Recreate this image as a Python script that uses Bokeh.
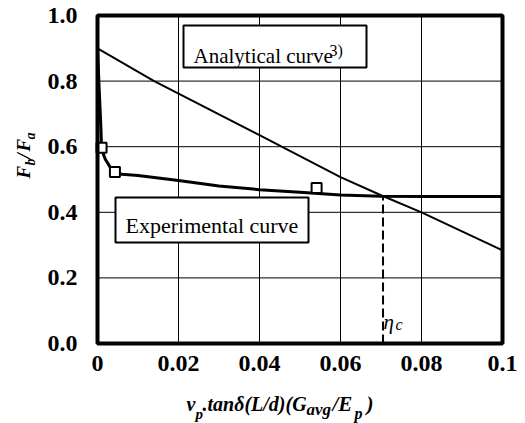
from bokeh.plotting import figure
from bokeh.models import Label, BoxAnnotation, FixedTicker
from bokeh.embed import file_html
from bokeh.resources import INLINE
import math

# ---- data ----
analytical_x = [0.0, 0.014, 0.04, 0.06, 0.07, 0.08, 0.1]
analytical_y = [0.90, 0.80, 0.635, 0.507, 0.452, 0.400, 0.284]

experimental_x = [0.0, 0.0004, 0.0008, 0.001, 0.0015, 0.002, 0.003, 0.0043, 0.006,
                  0.01, 0.02, 0.03, 0.04, 0.05, 0.06, 0.07, 0.08, 0.1]
experimental_y = [0.90, 0.78, 0.67, 0.60, 0.575, 0.56, 0.54, 0.523, 0.516,
                  0.512, 0.497, 0.480, 0.469, 0.461, 0.453, 0.449, 0.448, 0.448]

marker_x = [0.001, 0.0043, 0.0541]
marker_y = [0.597, 0.523, 0.474]

eta_c = 0.0705
f_c = 0.449

x_ticks = [0, 0.02, 0.04, 0.06, 0.08, 0.1]
x_tick_labels = ["0", "0.02", "0.04", "0.06", "0.08", "0.1"]
y_ticks = [0, 0.2, 0.4, 0.6, 0.8, 1.0]
y_tick_labels = ["0.0", "0.2", "0.4", "0.6", "0.8", "1.0"]

# ---- layout (pixels) ----
W, H = 525, 423
FL, FT, FW, FH = 97, 15, 405, 328      # plot area inside the canvas
X0, X1, Y0, Y1 = 0.0, 0.1, 0.0, 1.0


def dx(px):
    return X0 + (px - FL) / FW * (X1 - X0)


def dy(py):
    return Y1 - (py - FT) / FH * (Y1 - Y0)


SERIF = "Liberation Serif"

p = figure(width=W, height=H, min_border=0,
           x_range=(dx(0), dx(W)), y_range=(dy(H), dy(0)),
           output_backend="svg", toolbar_location=None)
p.background_fill_color = "white"
p.border_fill_color = "white"
p.outline_line_color = None
p.xgrid.visible = False
p.ygrid.visible = False

for ax in (p.xaxis, p.yaxis):
    ax.fixed_location = 0
    ax.axis_line_color = None
    ax.major_tick_line_color = None
    ax.minor_tick_line_color = None
    ax.major_label_text_font = SERIF
    ax.major_label_text_font_size = "24px"
    ax.major_label_text_font_style = "bold"
    ax.major_label_text_color = "black"

p.xaxis.ticker = FixedTicker(ticks=x_ticks)
p.xaxis.major_label_overrides = {t: l for t, l in zip(x_ticks, x_tick_labels)}
p.xaxis.major_label_standoff = 6
p.yaxis.ticker = FixedTicker(ticks=y_ticks)
p.yaxis.major_label_overrides = {t: l for t, l in zip(y_ticks, y_tick_labels)}
p.yaxis.major_label_standoff = 14

# grid lines at the inner ticks
gx = x_ticks[1:-1]
gy = y_ticks[1:-1]
p.segment(x0=gx, y0=[Y0] * len(gx), x1=gx, y1=[Y1] * len(gx),
          line_color="black", line_width=1)
p.segment(x0=[X0] * len(gy), y0=gy, x1=[X1] * len(gy), y1=gy,
          line_color="black", line_width=1)

# curves
p.line(analytical_x, analytical_y, line_color="black", line_width=2)
p.line(experimental_x, experimental_y, line_color="black", line_width=3)
p.line([eta_c, eta_c], [0, f_c], line_color="black", line_width=2, line_dash="9 4")
p.scatter(marker_x, marker_y, marker="square", size=10, fill_color="white",
          line_color="black", line_width=2)

# plot frame
p.add_layout(BoxAnnotation(left=X0, right=X1, bottom=Y0, top=Y1,
                           fill_alpha=0, line_color="black", line_width=4, line_alpha=1))

# boxes
p.add_layout(BoxAnnotation(left=dx(183), right=dx(366), top=dy(25), bottom=dy(67),
                           fill_color="white", fill_alpha=1, line_color="black",
                           line_width=2, line_alpha=1))
p.add_layout(BoxAnnotation(left=dx(115), right=dx(308), top=dy(197), bottom=dy(242),
                           fill_color="white", fill_alpha=1, line_color="black",
                           line_width=2, line_alpha=1))


def lab(text, px, py, size, style="normal", angle=0.0):
    p.add_layout(Label(x=dx(px), y=dy(py), text=text, text_font=SERIF,
                       text_font_size=f"{size}px", text_font_style=style,
                       text_align="left", text_baseline="alphabetic",
                       text_color="black", angle=angle))


lab("Analytical curve", 193, 55, 21)
lab("3)", 329, 50, 16)
lab("Experimental curve", 125, 225, 22)

# eta_c
lab("η", 383, 321, 21, "italic")
lab("c", 395, 324, 16, "italic")

# x axis label
lab("ν", 186, 403, 20, "bold italic")
lab("p", 195, 413, 15, "bold italic")
lab(".tanδ(L/d)(G", 202, 403, 20, "bold italic")
lab("avg", 306, 409, 17, "bold italic")
lab("/E", 332, 403, 21, "bold italic")
lab("p", 354, 413, 16, "bold italic")
lab(")", 366, 403, 21, "bold italic")

# y axis label (rotated)
A = math.pi / 2
lab("F", 23, 178, 19, "bold italic", A)
lab("b", 30, 165, 14, "bold italic", A)
lab("/", 23, 158, 19, "bold italic", A)
lab("F", 23, 151, 19, "bold italic", A)
lab("a", 30, 139, 14, "bold italic", A)

open("out.html", "w").write(file_html(p, INLINE))
